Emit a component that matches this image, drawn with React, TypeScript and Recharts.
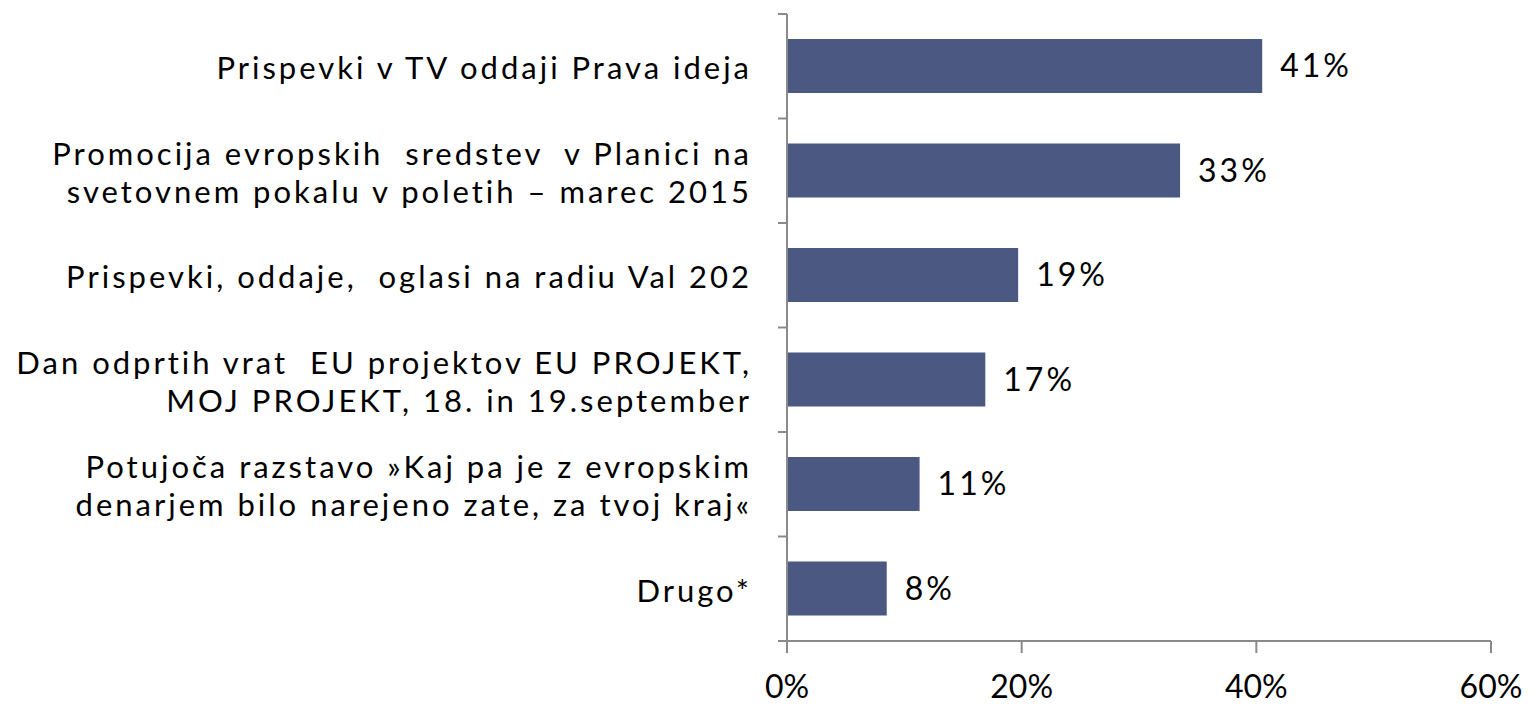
import React from "react";
import { BarChart, Bar, XAxis, YAxis, LabelList } from "recharts";

const categories = [
  "Prispevki v TV oddaji Prava ideja",
  "Promocija evropskih  sredstev  v Planici na\nsvetovnem pokalu v poletih – marec 2015",
  "Prispevki, oddaje,  oglasi na radiu Val 202",
  "Dan odprtih vrat  EU projektov EU PROJEKT,\nMOJ PROJEKT, 18. in 19.september",
  "Potujoča razstavo »Kaj pa je z evropskim\ndenarjem bilo narejeno zate, za tvoj kraj«",
  "Drugo*",
];
const values = [40.5, 33.5, 19.7, 16.9, 11.3, 8.5];
const valueLabels = ["41%", "33%", "19%", "17%", "11%", "8%"];
const xTicks = [0, 20, 40, 60];

const data = categories.map((c, i) => ({ name: c, value: values[i], label: valueLabels[i] }));

const W = 1537;
const H = 707;
const X_AXIS_H = 66;
const M = { top: 14, right: 46, bottom: 0, left: 0 };
const AXIS_W = 787;
const band = (H - M.top - X_AXIS_H) / categories.length;
const FONT = "Lato, 'Open Sans', sans-serif";
const GREY = "#8a8a8a";

const CatTick = (props: any) => {
  const { x, y, payload, index } = props;
  const lines = String(payload.value).split("\n");
  const lh = 38;
  const start = -((lines.length - 1) * lh) / 2;
  return (
    <g>
      <line x1={AXIS_W - 9} x2={AXIS_W} y1={y - band / 2} y2={y - band / 2} stroke={GREY} strokeWidth={2} />
      {index === categories.length - 1 && (
        <line x1={AXIS_W - 9} x2={AXIS_W} y1={y + band / 2} y2={y + band / 2} stroke={GREY} strokeWidth={2} />
      )}
      <text x={x - 27} y={y} textAnchor="end" fontFamily={FONT} fontSize={31} fill="#000" letterSpacing={3}>
        {lines.map((l, i) => (
          <tspan key={i} x={x - 27} dy={i === 0 ? start + 13 : lh} style={{ whiteSpace: "pre" }}>
            {l}
          </tspan>
        ))}
      </text>
    </g>
  );
};

export default function App() {
  return (
    <div style={{ position: "absolute", left: 0, top: 0, width: W, height: H, background: "#fff" }}>
      <BarChart width={W} height={H} data={data} layout="vertical" margin={M} barCategoryGap="24%">
        <XAxis
          type="number"
          domain={[0, 60]}
          ticks={xTicks}
          height={X_AXIS_H}
          tickFormatter={(v: number) => `${v}%`}
          axisLine={{ stroke: GREY, strokeWidth: 2 }}
          tickLine={{ stroke: GREY, strokeWidth: 2 }}
          tickSize={12}
          tickMargin={22}
          tick={{ fill: "#000", fontSize: 32, fontFamily: FONT }}
          interval={0}
        />
        <YAxis
          type="category"
          dataKey="name"
          width={AXIS_W}
          axisLine={{ stroke: GREY, strokeWidth: 2 }}
          tickLine={false}
          tick={<CatTick />}
          interval={0}
        />
        <Bar dataKey="value" fill="#4a5882" isAnimationActive={false}>
          <LabelList
            dataKey="label"
            position="right"
            offset={18}
            fill="#000"
            fontSize={32}
            fontFamily={FONT}
            letterSpacing={3}
          />
        </Bar>
      </BarChart>
    </div>
  );
}
